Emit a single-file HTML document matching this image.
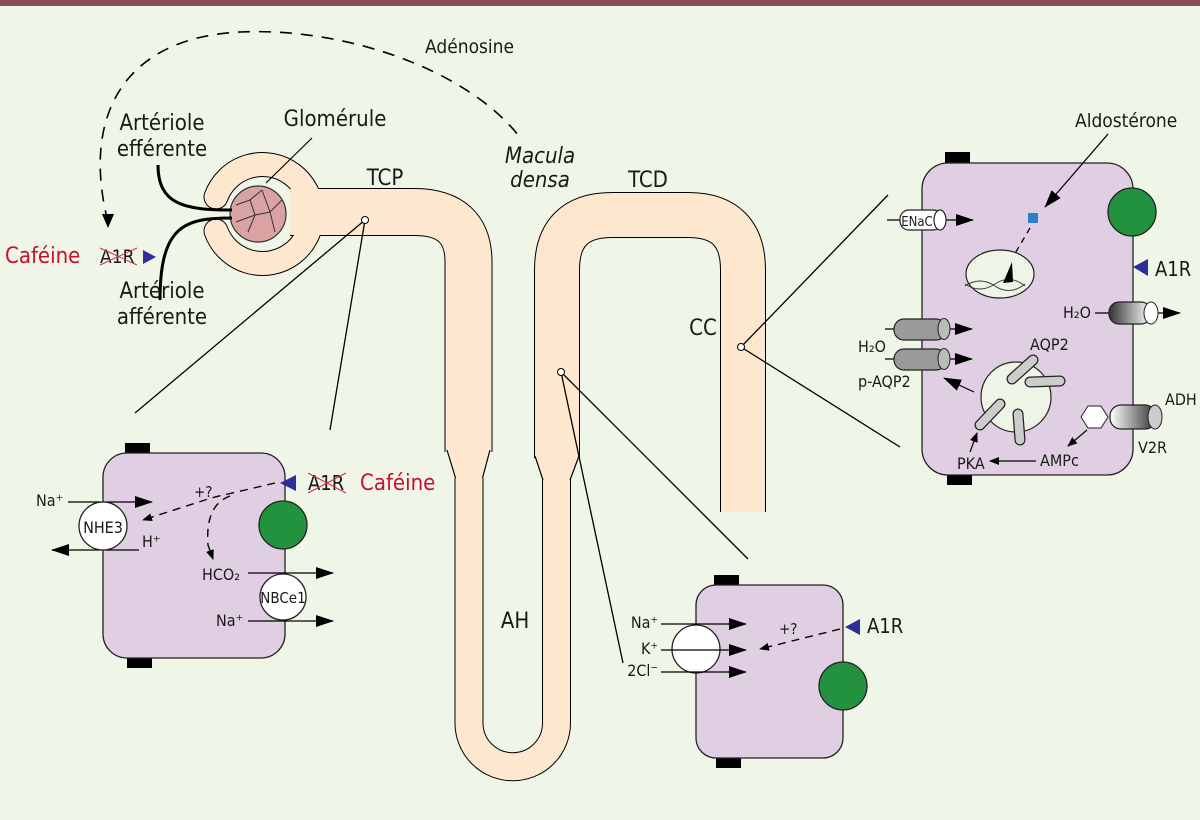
<!DOCTYPE html>
<html><head><meta charset="utf-8"><style>
html,body{margin:0;padding:0;background:#eff6e8;}
svg{display:block}
text{font-family:"DejaVu Sans Condensed","Liberation Sans Narrow","Liberation Sans",sans-serif;fill:#1a1a1a}
</style></head><body>
<svg width="1200" height="820" viewBox="0 0 1200 820" xmlns="http://www.w3.org/2000/svg">
<defs>
<marker id="ah" markerWidth="10" markerHeight="8" refX="9" refY="4" orient="auto" markerUnits="userSpaceOnUse"><path d="M0,0 L10,4 L0,8z" fill="#000"/></marker>
<marker id="ahb" markerWidth="18" markerHeight="12" refX="17" refY="6" orient="auto" markerUnits="userSpaceOnUse"><path d="M0,0 L18,6 L0,12z" fill="#000"/></marker>
<linearGradient id="gr" x1="0" x2="1"><stop offset="0" stop-color="#333"/><stop offset="1" stop-color="#fff"/></linearGradient>
</defs>
<rect x="0" y="0" width="1200" height="820" fill="#eff6e8"/>
<rect x="0" y="0" width="1200" height="6" fill="#8b4a55"/>

<path d="M108,222 C 82,120 120,38 240,32 C 345,27 470,70 522,140" fill="none" stroke="#000" stroke-width="1.6" stroke-dasharray="12,9"/>
<path d="M102,214 L108,228 L114,214z" fill="#000"/>
<text x="425" y="53" font-size="19">Adénosine</text>

<g fill="none" stroke="#000" stroke-linejoin="round">
<path d="M216,231 A49.5,49.5 0 1 0 216,197" stroke-width="25" stroke-linecap="round"/>
<path d="M290,212 L414,212 Q468.5,212 468.5,262 L468.5,452" stroke-width="48"/>
<path d="M469,478 L469,723 A43.5,43.5 0 0 0 556.5,723 L556.5,478" stroke-width="29"/>
<path d="M557,458 L557,270 Q557,215 612,215 L688,215 Q743,215 743,270 L743,512" stroke-width="46"/>
</g>
<g fill="none" stroke="#fde7cf" stroke-linejoin="round">
<path d="M216,231 A49.5,49.5 0 1 0 216,197" stroke-width="23" stroke-linecap="round"/>
<path d="M290,212 L414,212 Q468.5,212 468.5,262 L468.5,452" stroke-width="46"/>
<path d="M469,470 L469,723 A43.5,43.5 0 0 0 556.5,723 L556.5,470" stroke-width="27"/>
<path d="M557,458 L557,270 Q557,215 612,215 L688,215 Q743,215 743,270 L743,512" stroke-width="44"/>
</g>
<path d="M447,450 L455.5,478 L482.5,478 L490,450z" fill="#fde7cf"/>
<path d="M447,450 L455.5,478 M490,450 L482.5,478" stroke="#000" stroke-width="1.2" fill="none"/>
<path d="M535,456 L543,480 L570,480 L579,456z" fill="#fde7cf"/>
<path d="M535,456 L543,480 M579,456 L570,480" stroke="#000" stroke-width="1.2" fill="none"/>

<circle cx="258" cy="214" r="28" fill="#d9a3a3" stroke="#333" stroke-width="1.2"/>
<path d="M236,205 L250,200 L262,190 M250,200 L255,215 L270,212 L282,200 M255,215 L248,232 M270,212 L275,232 M236,222 L255,215 M262,190 L270,212" fill="none" stroke="#333" stroke-width="1"/>
<path d="M158,165 C158,205 185,210 232,210" fill="none" stroke="#000" stroke-width="3"/>
<path d="M232,218 C185,218 160,225 160,300" fill="none" stroke="#000" stroke-width="3"/>

<line x1="312" y1="138" x2="266" y2="183" stroke="#000" stroke-width="1.2"/>
<text x="162" y="130" font-size="22" text-anchor="middle">Artériole</text>
<text x="162" y="156" font-size="22" text-anchor="middle">efférente</text>
<text x="335" y="126" font-size="22" text-anchor="middle">Glomérule</text>
<text x="162" y="298" font-size="22" text-anchor="middle">Artériole</text>
<text x="162" y="324" font-size="22" text-anchor="middle">afférente</text>
<text x="5" y="263" font-size="22" style="fill:#c8102e">Caféine</text>
<text x="100" y="263" font-size="19">A1R</text>
<path d="M100,248 L137,265 M100,265 L137,248" stroke="#d03040" stroke-width="1"/>
<path d="M143,250 L156,257 L143,264z" fill="#2e2e9a"/>
<text x="385" y="185" font-size="22" text-anchor="middle">TCP</text>
<text x="540" y="163" font-size="22" text-anchor="middle" font-style="italic">Macula</text>
<text x="540" y="187" font-size="22" text-anchor="middle" font-style="italic">densa</text>
<text x="648" y="187" font-size="22" text-anchor="middle">TCD</text>
<text x="703" y="335" font-size="22" text-anchor="middle">CC</text>
<text x="515" y="628" font-size="22" text-anchor="middle">AH</text>

<g stroke="#000" stroke-width="1.3" fill="none">
<line x1="365" y1="220" x2="135" y2="413"/>
<line x1="365" y1="220" x2="330" y2="430"/>
<line x1="561" y1="372" x2="623" y2="663"/>
<line x1="561" y1="372" x2="748" y2="559"/>
<line x1="741" y1="347" x2="888" y2="195"/>
<line x1="741" y1="347" x2="900" y2="447"/>
</g>
<circle cx="365" cy="220" r="3.5" fill="#fff" stroke="#000"/>
<circle cx="561" cy="372" r="3.5" fill="#fff" stroke="#000"/>
<circle cx="741" cy="347" r="3.5" fill="#fff" stroke="#000"/>

<!-- left cell -->
<rect x="125" y="443" width="25" height="12" fill="#000"/>
<rect x="127" y="656" width="25" height="12" fill="#000"/>
<rect x="103" y="453" width="182" height="205" rx="24" fill="#e0cfe2" stroke="#222" stroke-width="1.3"/>
<circle cx="283" cy="525" r="24" fill="#22923f" stroke="#222" stroke-width="1.3"/>
<path d="M280,483 L296,475 L296,491z" fill="#2e2e9a"/>
<text x="308" y="490" font-size="20">A1R</text>
<path d="M308,473 L346,493 M308,493 L346,473" stroke="#d03040" stroke-width="1"/>
<text x="360" y="490" font-size="22" style="fill:#c8102e">Caféine</text>
<line x1="68" y1="502" x2="152" y2="502" stroke="#000" stroke-width="1.3" marker-end="url(#ahb)"/>
<line x1="139" y1="550" x2="52" y2="550" stroke="#000" stroke-width="1.3" marker-end="url(#ahb)"/>
<circle cx="103" cy="526" r="24" fill="#fff" stroke="#222" stroke-width="1.3"/>
<text x="103" y="533" font-size="16" text-anchor="middle">NHE3</text>
<text x="36" y="506" font-size="16">Na⁺</text>
<text x="142" y="547" font-size="16">H⁺</text>
<text x="194" y="497" font-size="15">+?</text>
<path d="M275,483 L228,494 Q210,498 205,500 L143,520" fill="none" stroke="#000" stroke-width="1.4" stroke-dasharray="8,6" marker-end="url(#ah)"/>
<path d="M230,496 Q205,505 208,545 L213,559" fill="none" stroke="#000" stroke-width="1.4" stroke-dasharray="8,6" marker-end="url(#ah)"/>
<line x1="248" y1="573" x2="333" y2="573" stroke="#000" stroke-width="1.3" marker-end="url(#ahb)"/>
<line x1="248" y1="621" x2="333" y2="621" stroke="#000" stroke-width="1.3" marker-end="url(#ahb)"/>
<circle cx="283" cy="597" r="23" fill="#fff" stroke="#222" stroke-width="1.3"/>
<text x="283" y="603" font-size="15" text-anchor="middle">NBCe1</text>
<text x="202" y="580" font-size="16">HCO₂</text>
<text x="216" y="626" font-size="16">Na⁺</text>

<!-- bottom cell -->
<rect x="714" y="575" width="25" height="12" fill="#000"/>
<rect x="716" y="756" width="25" height="12" fill="#000"/>
<rect x="696" y="585" width="147" height="173" rx="20" fill="#e0cfe2" stroke="#222" stroke-width="1.3"/>
<circle cx="696" cy="649" r="24" fill="#fff" stroke="#222" stroke-width="1.3"/>
<line x1="661" y1="624" x2="746" y2="624" stroke="#000" stroke-width="1.3" marker-end="url(#ahb)"/>
<line x1="661" y1="650" x2="746" y2="650" stroke="#000" stroke-width="1.3" marker-end="url(#ahb)"/>
<line x1="661" y1="672" x2="746" y2="672" stroke="#000" stroke-width="1.3" marker-end="url(#ahb)"/>
<text x="658" y="628" font-size="16" text-anchor="end">Na⁺</text>
<text x="658" y="654" font-size="16" text-anchor="end">K⁺</text>
<text x="658" y="676" font-size="16" text-anchor="end">2Cl⁻</text>
<circle cx="843" cy="686" r="24" fill="#22923f" stroke="#222" stroke-width="1.3"/>
<path d="M845,627 L860,619 L860,635z" fill="#2e2e9a"/>
<text x="867" y="633" font-size="20">A1R</text>
<text x="779" y="634" font-size="15">+?</text>
<path d="M840,629 L760,649" fill="none" stroke="#000" stroke-width="1.4" stroke-dasharray="8,6" marker-end="url(#ah)"/>

<!-- right cell -->
<rect x="945" y="152" width="25" height="12" fill="#000"/>
<rect x="947" y="473" width="25" height="12" fill="#000"/>
<rect x="922" y="163" width="211" height="312" rx="26" fill="#e0cfe2" stroke="#222" stroke-width="1.3"/>
<circle cx="1132" cy="212" r="24" fill="#22923f" stroke="#222" stroke-width="1.3"/>
<path d="M1133,267 L1148,259 L1148,276z" fill="#2e2e9a"/>
<text x="1155" y="276" font-size="20">A1R</text>
<text x="1075" y="127" font-size="19">Aldostérone</text>
<line x1="1108" y1="134" x2="1045" y2="207" stroke="#000" stroke-width="1.3" marker-end="url(#ahb)"/>
<rect x="1028" y="213" width="10" height="10" fill="#2f7fd0"/>
<line x1="1030" y1="228" x2="1010" y2="262" stroke="#000" stroke-width="1.3" stroke-dasharray="6,5"/>
<ellipse cx="1000" cy="274" rx="34" ry="24" fill="#eef4e6" stroke="#222" stroke-width="1.2"/>
<path d="M965,286 Q980,276 995,286 T1025,284 M965,284 Q980,294 995,284 T1025,286" fill="none" stroke="#333" stroke-width="0.9"/>
<path d="M1003,283 L1012,262 L1013,282z" fill="#000"/>
<line x1="887" y1="220" x2="973" y2="220" stroke="#000" stroke-width="1.3" marker-end="url(#ahb)"/>
<rect x="900" y="210" width="42" height="20" rx="9" fill="#fff" stroke="#222" stroke-width="1.2"/>
<ellipse cx="940" cy="220" rx="6" ry="10" fill="#fff" stroke="#222" stroke-width="1.2"/>
<text x="917" y="226" font-size="13" text-anchor="middle">ENaC</text>
<line x1="885" y1="329" x2="972" y2="329" stroke="#000" stroke-width="1.3" marker-end="url(#ahb)"/>
<rect x="894" y="319" width="52" height="21" rx="10" fill="#9a9a9a" stroke="#222" stroke-width="1.2"/>
<ellipse cx="944" cy="329" rx="6" ry="10.5" fill="#bbb" stroke="#222"/>
<line x1="885" y1="359" x2="972" y2="359" stroke="#000" stroke-width="1.3" marker-end="url(#ahb)"/>
<rect x="894" y="349" width="52" height="21" rx="10" fill="#9a9a9a" stroke="#222" stroke-width="1.2"/>
<ellipse cx="944" cy="359" rx="6" ry="10.5" fill="#bbb" stroke="#222"/>
<text x="858" y="352" font-size="16">H₂O</text>
<text x="858" y="387" font-size="16">p-AQP2</text>
<line x1="1095" y1="313" x2="1180" y2="313" stroke="#000" stroke-width="1.3" marker-end="url(#ahb)"/>
<rect x="1109" y="302" width="42" height="22" rx="10" fill="url(#gr)" stroke="#222" stroke-width="1.2"/>
<ellipse cx="1151" cy="313" rx="7" ry="11" fill="#fff" stroke="#222"/>
<text x="1063" y="318" font-size="16">H₂O</text>
<circle cx="1016" cy="397" r="35" fill="#eef4e6" stroke="#222" stroke-width="1.2"/>
<g stroke-linecap="round">
<g stroke="#222" stroke-width="11">
<line x1="1012" y1="379" x2="1033" y2="360"/>
<line x1="1030" y1="382" x2="1060" y2="381"/>
<line x1="1018" y1="414" x2="1020" y2="440"/>
<line x1="980" y1="425" x2="1000" y2="404"/>
</g>
<g stroke="#ccc" stroke-width="8.5">
<line x1="1012" y1="379" x2="1033" y2="360"/>
<line x1="1030" y1="382" x2="1060" y2="381"/>
<line x1="1018" y1="414" x2="1020" y2="440"/>
<line x1="980" y1="425" x2="1000" y2="404"/>
</g>
</g>
<line x1="974" y1="392" x2="944" y2="378" stroke="#000" stroke-width="1.2" marker-end="url(#ahb)"/>
<text x="1030" y="350" font-size="16">AQP2</text>
<rect x="1110" y="405" width="46" height="24" rx="11" fill="url(#gr)" stroke="#222" stroke-width="1.2" transform="rotate(180 1133 417)"/>
<ellipse cx="1155" cy="417" rx="7" ry="12" fill="#ccc" stroke="#222"/>
<text x="1165" y="405" font-size="16">ADH</text>
<text x="1138" y="453" font-size="16">V2R</text>
<path d="M1081,417 L1088,406 L1101,406 L1108,417 L1101,428 L1088,428z" fill="#fff" stroke="#222"/>
<line x1="1087" y1="430" x2="1068" y2="446" stroke="#000" stroke-width="1.2" marker-end="url(#ah)"/>
<text x="1040" y="466" font-size="16">AMPc</text>
<line x1="1036" y1="461" x2="990" y2="461" stroke="#000" stroke-width="1.2" marker-end="url(#ah)"/>
<text x="957" y="469" font-size="16">PKA</text>
<line x1="970" y1="452" x2="977" y2="433" stroke="#000" stroke-width="1.2" marker-end="url(#ah)"/>
</svg>
</body></html>
